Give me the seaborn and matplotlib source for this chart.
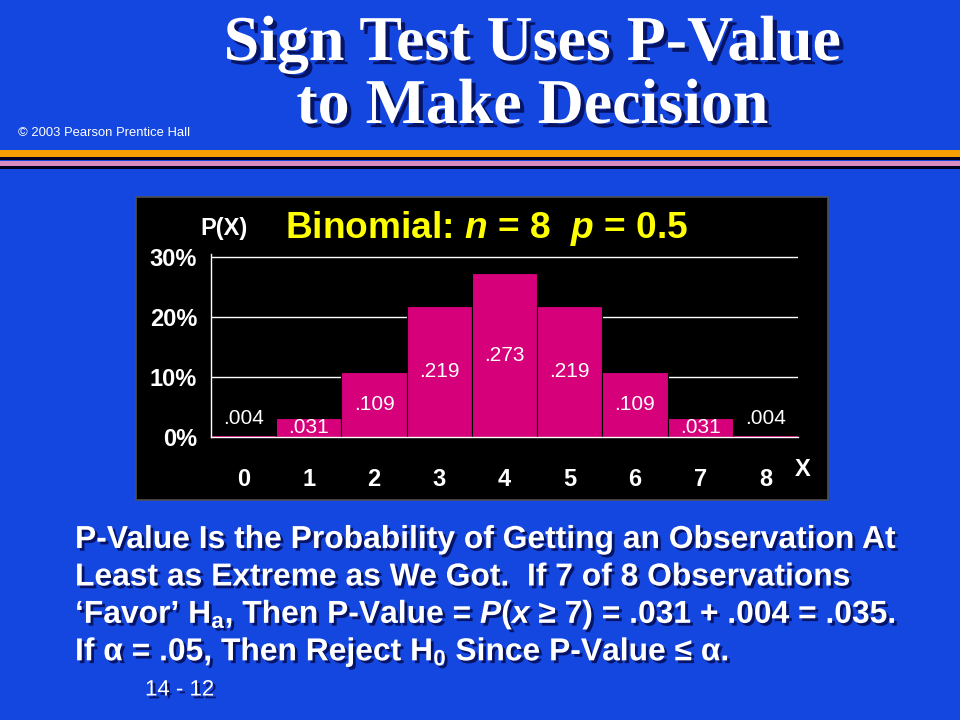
import matplotlib
matplotlib.use("Agg")
import matplotlib.pyplot as plt
import matplotlib.patheffects as pe
from matplotlib.patches import Rectangle
import seaborn as sns
import pandas as pd

# Binomial n = 8, p = 0.5
x_values = [0, 1, 2, 3, 4, 5, 6, 7, 8]
probs = [0.004, 0.031, 0.109, 0.219, 0.273, 0.219, 0.109, 0.031, 0.004]
prob_labels = [".004", ".031", ".109", ".219", ".273", ".219", ".109", ".031", ".004"]
y_ticks = [0, 0.10, 0.20, 0.30]
y_tick_labels = ["0%", "10%", "20%", "30%"]

title_lines = ["Sign Test Uses P-Value", "to Make Decision"]
body_lines = [
    "P-Value Is the Probability of Getting an Observation At",
    "Least as Extreme as We Got.  If 7 of 8 Observations",
    "\u2018Favor\u2019 H$_\\mathrm{a}$, Then P-Value = $\\mathit{P}$($\\mathit{x}$ \u2265 7) = .031 + .004 = .035.",
    "If \u03b1 = .05, Then Reject H$_\\mathrm{0}$ Since P-Value \u2264 \u03b1.",
]

df = pd.DataFrame({"X": x_values, "P": probs})

bg_blue = "#1446e0"
bar_color = "#d6007b"

sns.set_style("dark")
plt.rcParams["font.family"] = ["Liberation Sans", "DejaVu Sans"]
plt.rcParams["mathtext.fontset"] = "custom"
plt.rcParams["mathtext.rm"] = "Liberation Sans:bold"
plt.rcParams["mathtext.bf"] = "Liberation Sans:bold"
plt.rcParams["mathtext.it"] = "Liberation Sans:italic:bold"

fig = plt.figure(figsize=(9.6, 7.2), dpi=100, facecolor=bg_blue)

shadow = [pe.SimplePatchShadow(offset=(2, -2), shadow_rgbFace="#000033", alpha=0.7), pe.Normal()]
big_shadow = [pe.SimplePatchShadow(offset=(3, -3), shadow_rgbFace="#000033", alpha=0.7), pe.Normal()]

# title
fig.text(532 / 960, 1 - 45 / 720, title_lines[0], ha="center", va="center", color="white",
         fontsize=46, fontweight="bold", family="Liberation Serif", path_effects=big_shadow)
fig.text(532 / 960, 1 - 108 / 720, title_lines[1], ha="center", va="center", color="white",
         fontsize=46, fontweight="bold", family="Liberation Serif", path_effects=big_shadow)
fig.text(18 / 960, 1 - 133 / 720, "\u00a9 2003 Pearson Prentice Hall", ha="left", va="center",
         color="white", fontsize=9.4)

# stripes under the title
stripes = [(150, 157, "#f5a000"), (157, 160, "#000022"), (161, 166, "#d98cc0"), (166, 169, "#000022")]
for top, bot, col in stripes:
    fig.patches.append(Rectangle((0, 1 - bot / 720), 1, (bot - top) / 720, transform=fig.transFigure,
                                 facecolor=col, edgecolor="none", zorder=-2))

# black chart panel
fig.patches.append(Rectangle((136 / 960, 1 - 500 / 720), (828 - 136) / 960, (500 - 197) / 720,
                             transform=fig.transFigure, facecolor="black", edgecolor="#505050",
                             linewidth=1.2, zorder=-2))

ax = fig.add_axes([211 / 960, 1 - 437 / 720, 587 / 960, 183 / 720])
ax.set_facecolor("black")
sns.barplot(data=df, x="X", y="P", order=x_values, width=1, color=bar_color, saturation=1,
            edgecolor="black", linewidth=0.8, ax=ax, zorder=3)
ax.set_xlim(-0.5, 8.5)
ax.set_ylim(0, 0.305)
ax.set_xlabel("")
ax.set_ylabel("")

ax.set_yticks(y_ticks)
ax.set_yticklabels(y_tick_labels, fontsize=17, fontweight="bold", color="white")
ax.set_xticks(x_values)
ax.set_xticklabels([str(v) for v in x_values], fontsize=17, fontweight="bold", color="white")
ax.set_xticks([v - 0.5 for v in x_values] + [8.5], minor=True)
ax.tick_params(axis="x", which="major", length=0, pad=22)
ax.tick_params(axis="x", which="minor", length=8, width=1, color="white", direction="out")
ax.tick_params(axis="y", which="major", length=4, width=1, color="white", direction="out", pad=6)
ax.grid(False)
for yv in y_ticks[1:]:
    ax.axhline(yv, color="white", linewidth=1, zorder=1)

for side in ["top", "right"]:
    ax.spines[side].set_visible(False)
for side in ["left", "bottom"]:
    ax.spines[side].set_visible(True)
    ax.spines[side].set_color("white")
    ax.spines[side].set_linewidth(1)
    ax.spines[side].set_zorder(4)

for xv, pv, lab in zip(x_values, probs, prob_labels):
    ypos = pv + 0.026 if pv < 0.01 else pv / 2
    ax.text(xv, ypos, lab, ha="center", va="center", color="white", fontsize=15, zorder=5)

fig.text(795 / 960, 1 - 470 / 720, "X", ha="left", va="center", color="white",
         fontsize=17, fontweight="bold")
fig.text(200 / 960, 1 - 228 / 720, "P(X)", ha="left", va="center", color="white",
         fontsize=17, fontweight="bold")
fig.text(285 / 960, 1 - 229 / 720, "Binomial: $\\mathit{n}$ = 8  $\\mathit{p}$ = 0.5", ha="left",
         va="center", color="#ffff00", fontsize=26.7, fontweight="bold")

# body text
for i, line in enumerate(body_lines):
    fig.text(75 / 960, 1 - (540 + 37.5 * i) / 720, line, ha="left", va="center", color="white",
             fontsize=22.9, fontweight="bold", path_effects=shadow)
fig.text(145 / 960, 1 - 690 / 720, "14 - 12", ha="left", va="center", color="white",
         fontsize=16, path_effects=shadow)

fig.savefig("out.png", dpi=100, facecolor=bg_blue)
